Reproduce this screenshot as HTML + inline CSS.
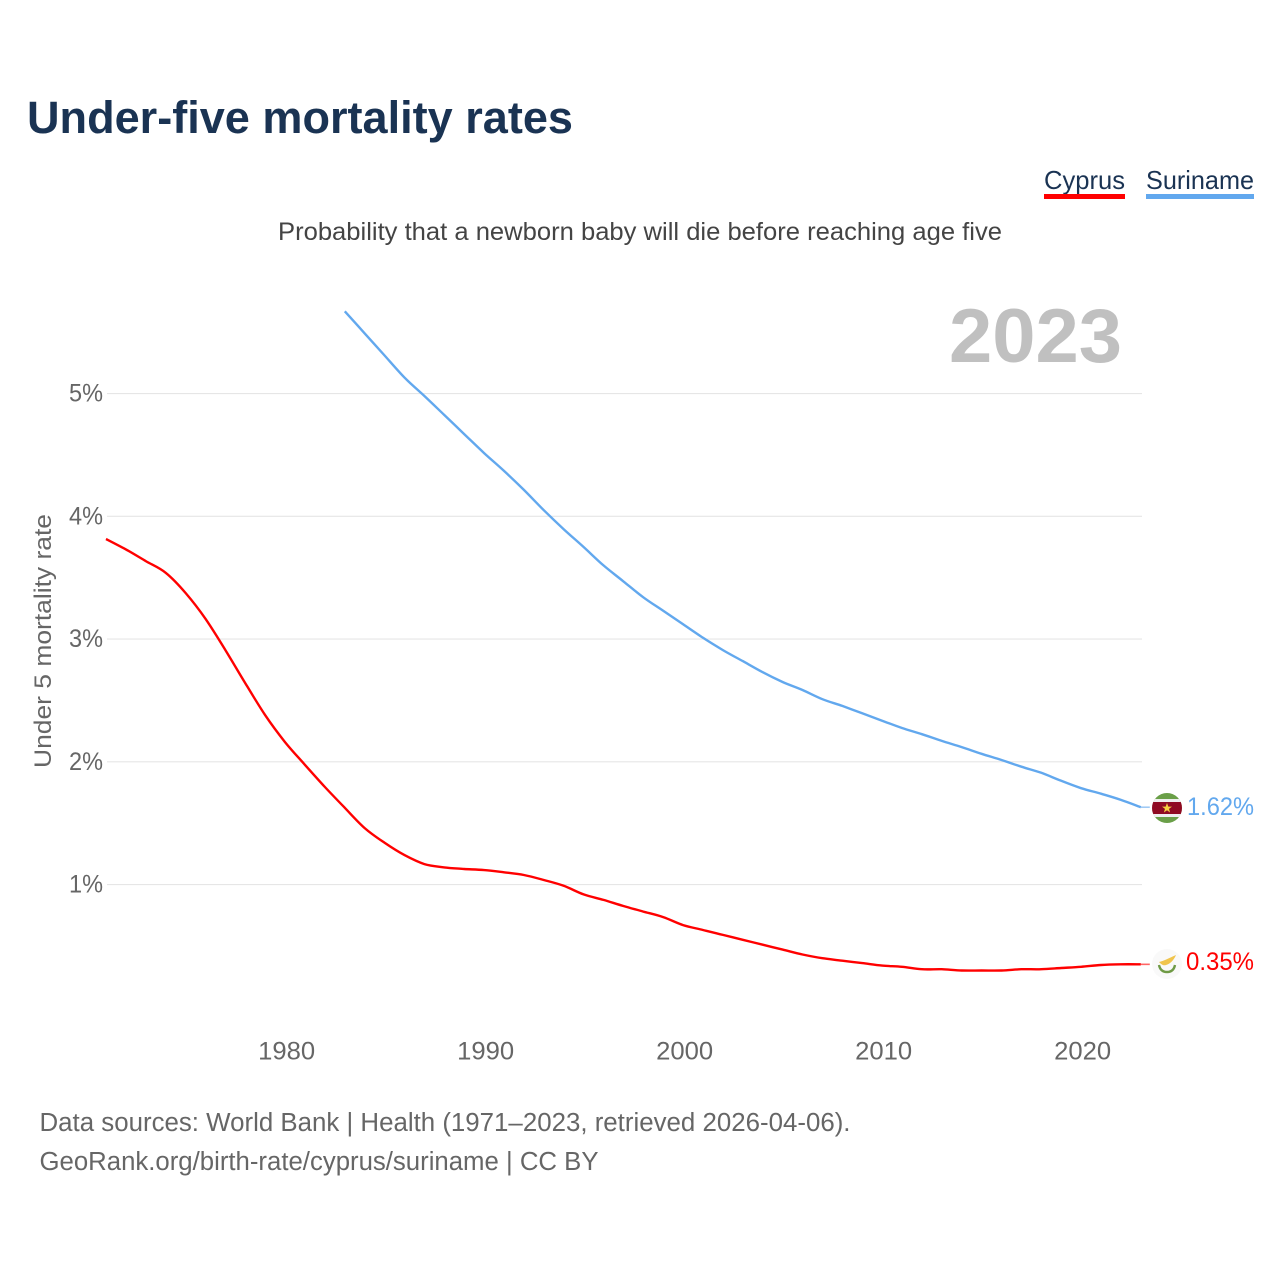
<!DOCTYPE html>
<html lang="en">
<head>
<meta charset="utf-8">
<title>Under-five mortality rates</title>
<style>
html,body{margin:0;padding:0;background:#fff;}
svg{display:block;font-family:"Liberation Sans",sans-serif;}
</style>
</head>
<body>
<svg id="chart" xmlns="http://www.w3.org/2000/svg" width="1280" height="1280" viewBox="0 0 1280 1280">
  <rect width="1280" height="1280" fill="#fff"/>
  <text x="27" y="133" font-size="45" font-weight="700" fill="#1a3353" textLength="546" lengthAdjust="spacingAndGlyphs">Under-five mortality rates</text>
  <g>
    <g>
      <text x="1044" y="189" font-size="26" fill="#1a3353" textLength="81" lengthAdjust="spacingAndGlyphs">Cyprus</text>
      <rect x="1044" y="194" width="81" height="5" fill="#ff0000"/>
    </g>
    <g>
      <text x="1146" y="189" font-size="26" fill="#1a3353" textLength="108" lengthAdjust="spacingAndGlyphs">Suriname</text>
      <rect x="1146" y="194" width="108" height="5" fill="#62a8ee"/>
    </g>
  </g>
  <text x="278" y="240" font-size="25" fill="#444" textLength="724" lengthAdjust="spacingAndGlyphs">Probability that a newborn baby will die before reaching age five</text>
  <text x="949" y="362" font-size="76" font-weight="700" fill="#c0c0c0" textLength="173" lengthAdjust="spacingAndGlyphs">2023</text>
  <g id="grid"></g>
  <g id="yticks"></g>
  <g id="xticks"></g>
  <text transform="translate(51,768) rotate(-90)" font-size="24.5" fill="#666" textLength="254" lengthAdjust="spacingAndGlyphs">Under 5 mortality rate</text>
  <g id="series"></g>
  <g>
    <clipPath id="srClip"><circle cx="1167" cy="808" r="15"/></clipPath>
    <g clip-path="url(#srClip)">
      <rect x="1152" y="793" width="30" height="30" fill="#6a9f48"/>
      <rect x="1152" y="799" width="30" height="18" fill="#eee"/>
      <rect x="1152" y="802" width="30" height="12" fill="#8f0a22"/>
    </g>
    <polygon points="1167,803 1168.3,806.6 1172,806.6 1169,808.9 1170.1,812.5 1167,810.3 1163.9,812.5 1165,808.9 1162,806.6 1165.7,806.6" fill="#f6cf3f"/>
  </g>
  <g>
    <circle cx="1167" cy="964" r="15" fill="#f9f9f9"/>
    <path d="M1159 962 C1164 961 1169 958 1176 955 C1174 960 1170 964 1166 965 C1163 966 1161 964 1159 962Z" fill="#f0c44c"/>
    <path d="M1159 965 C1160 970 1163 972 1167 972 C1171 972 1174 970 1175 965" fill="none" stroke="#6f9a45" stroke-width="2.4"/>
  </g>
  <text id="label-suriname" x="1187" y="815" font-size="25" fill="#62a8ee" textLength="67" lengthAdjust="spacingAndGlyphs"></text>
  <text id="label-cyprus" x="1186" y="970" font-size="25" fill="#ff0000" textLength="68" lengthAdjust="spacingAndGlyphs"></text>
  <text x="39.5" y="1131" font-size="25.5" fill="#666" textLength="811" lengthAdjust="spacingAndGlyphs">Data sources: World Bank | Health (1971–2023, retrieved 2026-04-06).</text>
  <text x="39.5" y="1170" font-size="25.5" fill="#666" textLength="559" lengthAdjust="spacingAndGlyphs">GeoRank.org/birth-rate/cyprus/suriname | CC BY</text>
</svg>
<script>
const cyprusYears = [1971,1972,1973,1974,1975,1976,1977,1978,1979,1980,1981,1982,1983,1984,1985,1986,1987,1988,1989,1990,1991,1992,1993,1994,1995,1996,1997,1998,1999,2000,2001,2002,2003,2004,2005,2006,2007,2008,2009,2010,2011,2012,2013,2014,2015,2016,2017,2018,2019,2020,2021,2022,2023];
const cyprusValues = [3.815,3.73,3.635,3.54,3.375,3.165,2.91,2.64,2.38,2.16,1.975,1.795,1.625,1.46,1.34,1.24,1.167,1.14,1.127,1.118,1.10,1.078,1.037,0.99,0.92,0.875,0.825,0.78,0.735,0.67,0.63,0.59,0.55,0.51,0.47,0.43,0.40,0.38,0.36,0.34,0.33,0.31,0.31,0.30,0.30,0.30,0.31,0.31,0.32,0.33,0.345,0.35,0.35];
const surinameYears = [1983,1984,1985,1986,1987,1988,1989,1990,1991,1992,1993,1994,1995,1996,1997,1998,1999,2000,2001,2002,2003,2004,2005,2006,2007,2008,2009,2010,2011,2012,2013,2014,2015,2016,2017,2018,2019,2020,2021,2022,2023];
const surinameValues = [5.67,5.49,5.31,5.13,4.98,4.825,4.67,4.515,4.37,4.215,4.05,3.895,3.75,3.60,3.47,3.34,3.23,3.12,3.01,2.91,2.82,2.73,2.65,2.585,2.51,2.455,2.395,2.335,2.275,2.225,2.17,2.12,2.065,2.015,1.96,1.91,1.845,1.785,1.74,1.69,1.63];
const yTickValues = [1,2,3,4,5];
const xTickValues = [1980,1990,2000,2010,2020];
const cyprusEndLabel = "0.35%";
const surinameEndLabel = "1.62%";

const NS = "http://www.w3.org/2000/svg";
function xScale(year){ return 285.1 + (year - 1980) * 19.9; }
function yScale(v){ return 1007.3 - v * 122.75; }
function make(tag, attrs, parent){
  const el = document.createElementNS(NS, tag);
  Object.keys(attrs).forEach(function(k){ el.setAttribute(k, attrs[k]); });
  parent.appendChild(el);
  return el;
}
const grid = document.getElementById("grid");
const yticks = document.getElementById("yticks");
const xticks = document.getElementById("xticks");
const series = document.getElementById("series");

yTickValues.forEach(function(v){
  const line = make("line", {x1:107, x2:1142, y1:yScale(v), y2:yScale(v), stroke:"#e6e6e6", "stroke-width":1.2}, grid);
  
  
  const t = make("text", {x:69, y:yScale(v)+8, "font-size":25, fill:"#666", textLength:34, lengthAdjust:"spacingAndGlyphs"}, yticks);
  
  
  t.textContent = v + "%";
});
xTickValues.forEach(function(y){
  const t = make("text", {x:xScale(y)-27, y:1059.5, "font-size":25, fill:"#666", textLength:57, lengthAdjust:"spacingAndGlyphs"}, xticks);
  
  
  t.textContent = y;
});
function smoothPath(xs, ys){
  let d = "M" + xs[0].toFixed(1) + " " + ys[0].toFixed(1);
  for (let i = 0; i < xs.length - 1; i++) {
    const a = Math.max(i - 1, 0), b = Math.min(i + 2, xs.length - 1);
    const c1x = xs[i] + (xs[i+1] - xs[a]) / 6, c1y = ys[i] + (ys[i+1] - ys[a]) / 6;
    const c2x = xs[i+1] - (xs[b] - xs[i]) / 6, c2y = ys[i+1] - (ys[b] - ys[i]) / 6;
    d += " C" + c1x.toFixed(1) + " " + c1y.toFixed(1) + " " + c2x.toFixed(1) + " " + c2y.toFixed(1) + " " + xs[i+1].toFixed(1) + " " + ys[i+1].toFixed(1);
  }
  return d;
}
function drawLine(years, values, color, width){
  const d = smoothPath(years.map(xScale), values.map(yScale));
  const last = values[values.length-1];
  const lastX = xScale(years[years.length-1]);
  const conn = make("line", {x1:lastX, x2:lastX+9, y1:yScale(last), y2:yScale(last), stroke:color, "stroke-width":1.6, opacity:0.6}, series);
  
  
  const p = make("path", {d:d, fill:"none", stroke:color, "stroke-width":width, "stroke-linejoin":"round"}, series);
  return p;
}
const surinameLine = drawLine(surinameYears, surinameValues, "#62a8ee", 2.4);


const cyprusLine = drawLine(cyprusYears, cyprusValues, "#ff0000", 2.4);


document.getElementById("label-suriname").textContent = surinameEndLabel;
document.getElementById("label-cyprus").textContent = cyprusEndLabel;
</script>
</body>
</html>
